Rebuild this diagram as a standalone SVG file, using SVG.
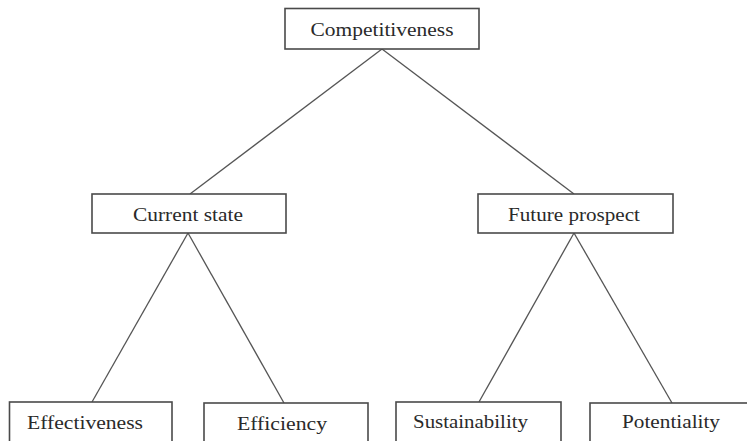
<svg xmlns="http://www.w3.org/2000/svg" width="747" height="441" viewBox="0 0 747 441">
<style>
.box{fill:#fff;stroke:#4a4a4a;stroke-width:1.6}
.lbl{font-family:"Liberation Serif","DejaVu Serif",serif;font-size:18px;fill:#2a2a2a;text-anchor:middle}
.con{stroke:#555;stroke-width:1.3;fill:none}
</style>
<rect width="747" height="441" fill="#fff"/>
<g id="connectors">
<line class="con" x1="382" y1="49" x2="190" y2="194"/>
<line class="con" x1="382" y1="49" x2="574" y2="194"/>
<line class="con" x1="188" y1="233" x2="92" y2="402"/>
<line class="con" x1="188" y1="233" x2="284" y2="403"/>
<line class="con" x1="574" y1="233" x2="479" y2="402"/>
<line class="con" x1="574" y1="233" x2="672" y2="403"/>
</g>
<g id="competitiveness">
<rect class="box" x="285" y="8.5" width="194" height="40.5"/>
<text class="lbl" x="382" y="36" textLength="143" lengthAdjust="spacingAndGlyphs">Competitiveness</text>
</g>
<g id="current-state">
<rect class="box" x="92" y="194" width="194" height="39"/>
<text class="lbl" x="188" y="221" textLength="110" lengthAdjust="spacingAndGlyphs">Current state</text>
</g>
<g id="future-prospect">
<rect class="box" x="478" y="194" width="195" height="39"/>
<text class="lbl" x="574" y="221" textLength="132" lengthAdjust="spacingAndGlyphs">Future prospect</text>
</g>
<g id="effectiveness">
<rect class="box" x="9.5" y="402" width="162.5" height="50"/>
<text class="lbl" x="85" y="429" textLength="116" lengthAdjust="spacingAndGlyphs">Effectiveness</text>
</g>
<g id="efficiency">
<rect class="box" x="204" y="403" width="164" height="50"/>
<text class="lbl" x="282" y="430" textLength="90" lengthAdjust="spacingAndGlyphs">Efficiency</text>
</g>
<g id="sustainability">
<rect class="box" x="396" y="402" width="165" height="50"/>
<text class="lbl" x="470.5" y="428" textLength="115" lengthAdjust="spacingAndGlyphs">Sustainability</text>
</g>
<g id="potentiality">
<rect class="box" x="590" y="403" width="170" height="50"/>
<text class="lbl" x="671" y="428" textLength="98" lengthAdjust="spacingAndGlyphs">Potentiality</text>
</g>
</svg>
